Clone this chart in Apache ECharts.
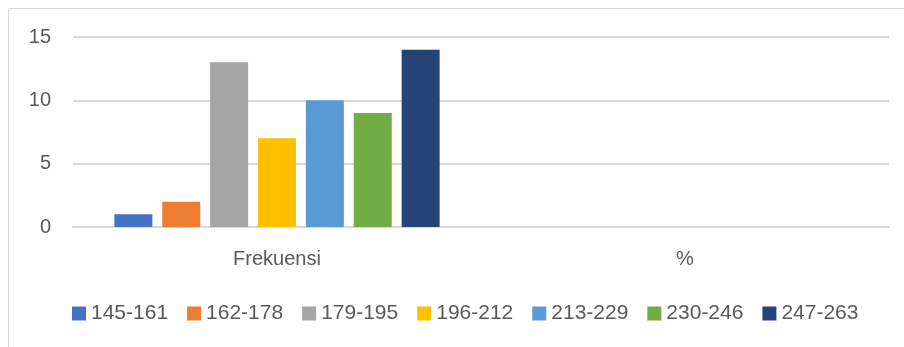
<!DOCTYPE html>
<html>
<head>
<meta charset="utf-8">
<script src="https://cdn.jsdelivr.net/npm/echarts@6/dist/echarts.min.js"></script>
<style>
  html, body { margin: 0; padding: 0; background: #fff; }
  #chart { width: 904px; height: 347px; }
</style>
</head>
<body>
<div id="chart"></div>
<script>
var categories = ["Frekuensi", "%"];
var seriesNames = ["145-161", "162-178", "179-195", "196-212", "213-229", "230-246", "247-263"];
var frekuensi = [1, 2, 13, 7, 10, 9, 14];
var persen = [null, null, null, null, null, null, null];
var colors = ["#4472C4", "#ED7D31", "#A5A5A5", "#FFC000", "#5B9BD5", "#70AD47", "#264478"];

var chart = echarts.init(document.getElementById("chart"));

var series = [];
for (var i = 0; i < seriesNames.length; i++) {
  series.push({
    name: seriesNames[i],
    type: "bar",
    data: [frekuensi[i], persen[i]],
    barWidth: 38,
    barGap: "26%",
    itemStyle: { color: colors[i] }
  });
}

var option = {
  animation: false,
  color: colors,
  graphic: [{
    type: "rect",
    shape: { x: 8.5, y: 8.5, width: 910, height: 350 },
    style: { fill: "none", stroke: "#D9D9D9", lineWidth: 1 },
    silent: true
  }],
  grid: {
    left: 73,
    right: 15,
    top: 37,
    bottom: 120
  },
  legend: {
    top: 298,
    left: 67,
    itemWidth: 14,
    itemHeight: 14,
    itemGap: 19,
    icon: "rect",
    textStyle: { color: "#595959", fontSize: 21, fontFamily: "Liberation Sans" },
    data: seriesNames
  },
  xAxis: {
    type: "category",
    data: categories,
    axisLine: { lineStyle: { color: "#D9D9D9", width: 2 } },
    axisTick: { show: false },
    axisLabel: { color: "#595959", fontSize: 20, margin: 22, fontFamily: "Liberation Sans" }
  },
  yAxis: {
    type: "value",
    min: 0,
    max: 15,
    interval: 5,
    axisLine: { show: false },
    axisTick: { show: false },
    axisLabel: { color: "#595959", fontSize: 20, margin: 22, fontFamily: "Liberation Sans" },
    splitLine: { lineStyle: { color: "#D9D9D9", width: 2 } }
  },
  series: series
};

chart.setOption(option);
</script>
</body>
</html>
